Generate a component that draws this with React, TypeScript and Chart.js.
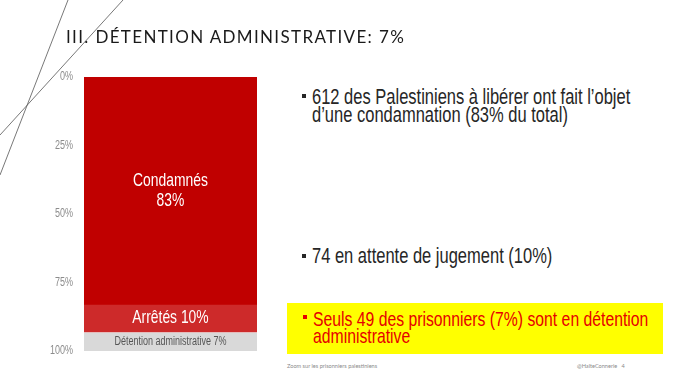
import React, { useEffect, useRef } from "react";
import { Chart, registerables } from "chart.js";

Chart.register(...registerables);

const categories = ["Prisonniers"];
const seriesNames = ["Condamnés", "Arrêtés", "Détention administrative"];
const condamnes = [83];
const arretes = [10];
const detention = [7];
const segmentLabels = [["Condamnés", "83%"], ["Arrêtés 10%"], ["Détention administrative 7%"]];
const yTickValues = [0, 25, 50, 75, 100];

const titleText = "III. DÉTENTION ADMINISTRATIVE: 7%";
const bullet1 = ["612 des Palestiniens à libérer ont fait l’objet", "d’une condamnation (83% du total)"];
const bullet2 = ["74 en attente de jugement (10%)"];
const bullet3 = ["Seuls 49 des prisonniers (7%) sont en détention", "administrative"];
const footerLeft = "Zoom sur les prisonniers palestiniens";
const footerRight = "@HalteConnerie   4";

const SANS = '"Liberation Sans", Arial, sans-serif';
const NARROW_SCALE = 0.75;

const decoPlugin = {
  id: "deco",
  beforeDraw(chart: any) {
    const ctx = chart.ctx;
    ctx.save();
    ctx.strokeStyle = "#555";
    ctx.lineWidth = 0.8;
    ctx.beginPath();
    ctx.moveTo(68, 0);
    ctx.lineTo(0, 175);
    ctx.moveTo(123, 0);
    ctx.lineTo(0, 135);
    ctx.stroke();
    ctx.restore();
  },
};

function narrowText(ctx: any, text: string, x: number, y: number, align: string) {
  ctx.save();
  ctx.translate(x, y);
  ctx.scale(NARROW_SCALE, 1);
  ctx.textAlign = align;
  ctx.fillText(text, 0, 0);
  ctx.restore();
}

const tickPlugin = {
  id: "narrowTicks",
  afterDraw(chart: any) {
    const ctx = chart.ctx;
    const y = chart.scales.y;
    ctx.save();
    ctx.font = `12px ${SANS}`;
    ctx.fillStyle = "#8c8c8c";
    ctx.textBaseline = "middle";
    yTickValues.forEach((v) => {
      narrowText(ctx, `${v}%`, y.right - 11, y.getPixelForValue(v), "right");
    });
    ctx.restore();
  },
};

const labelPlugin = {
  id: "segLabels",
  afterDatasetsDraw(chart: any) {
    const ctx = chart.ctx;
    const styles = [
      { size: 18.5, color: "#ffffff", lh: 20 },
      { size: 18.5, color: "#ffffff", lh: 20 },
      { size: 12, color: "#555555", lh: 13 },
    ];
    ctx.save();
    ctx.textBaseline = "middle";
    chart.data.datasets.forEach((ds: any, i: number) => {
      const meta = chart.getDatasetMeta(i);
      const el = meta.data[0];
      if (!el) return;
      const props = el.getProps(["x", "y", "base"], true);
      const cy = (props.y + props.base) / 2;
      const st = styles[i];
      const lines = segmentLabels[i];
      ctx.font = `${st.size}px ${SANS}`;
      ctx.fillStyle = st.color;
      const start = cy - ((lines.length - 1) * st.lh) / 2;
      lines.forEach((t, k) => narrowText(ctx, t, props.x, start + k * st.lh, "center"));
    });
    ctx.restore();
  },
};

function Bullet({ color, top }: { color: string; top: number }) {
  return (
    <div
      style={{ position: "absolute", left: -10, top, width: 4, height: 4, background: color }}
    />
  );
}

function NarrowLines({ lines }: { lines: string[] }) {
  return (
    <div style={{ transform: `scaleX(${NARROW_SCALE})`, transformOrigin: "0 0" }}>
      {lines.map((l, i) => (
        <div key={i}>{l}</div>
      ))}
    </div>
  );
}

export default function App() {
  const ref = useRef<HTMLCanvasElement>(null);
  useEffect(() => {
    if (!ref.current) return;
    const chart = new Chart(ref.current, {
      type: "bar",
      data: {
        labels: categories,
        datasets: [
          {
            label: seriesNames[0],
            data: condamnes,
            backgroundColor: "#C00000",
            borderWidth: 0,
          },
          {
            label: seriesNames[1],
            data: arretes,
            backgroundColor: "#CD2A2A",
            borderWidth: 0,
          },
          {
            label: seriesNames[2],
            data: detention,
            backgroundColor: "#D9D9D9",
            borderColor: "#ffffff",
            borderWidth: { top: 1, bottom: 0, left: 0, right: 0 },
            borderSkipped: false,
          },
        ],
      },
      options: {
        animation: false,
        responsive: true,
        maintainAspectRatio: false,
        layout: { padding: { top: 77, bottom: 30, left: 0, right: 3 } },
        plugins: { legend: { display: false }, tooltip: { enabled: false } },
        datasets: { bar: { categoryPercentage: 1, barPercentage: 1 } },
        scales: {
          x: { stacked: true, display: false },
          y: {
            stacked: true,
            reverse: true,
            min: 0,
            max: 100,
            afterFit: (s: any) => {
              s.width = 84;
            },
            afterBuildTicks: (s: any) => {
              s.ticks = yTickValues.map((v) => ({ value: v }));
            },
            grid: { display: false, drawTicks: false },
            border: { display: false },
            ticks: { display: false },
          },
        },
      },
      plugins: [decoPlugin, labelPlugin, tickPlugin],
    });
    return () => chart.destroy();
  }, []);

  const textStyle: React.CSSProperties = {
    position: "absolute",
    fontFamily: SANS,
    fontSize: 22,
    lineHeight: "18px",
    color: "#262626",
    whiteSpace: "nowrap",
  };

  return (
    <div
      style={{
        position: "fixed",
        left: 0,
        top: 0,
        width: 680,
        height: 381,
        background: "#ffffff",
        overflow: "hidden",
      }}
    >
      <div style={{ position: "absolute", left: 0, top: 0, width: 260, height: 381 }}>
        <canvas ref={ref} />
      </div>
      <div
        style={{
          position: "absolute",
          left: 66,
          top: 27,
          fontFamily: "Lato, 'Open Sans', sans-serif",
          fontSize: 17,
          letterSpacing: 1.35,
          color: "#1a1a1a",
          whiteSpace: "nowrap",
          lineHeight: "20px",
        }}
      >
        {titleText}
      </div>

      <div style={{ ...textStyle, left: 312, top: 87.7 }}>
        <Bullet color="#262626" top={6.6} />
        <NarrowLines lines={bullet1} />
      </div>

      <div style={{ ...textStyle, left: 312, top: 247.4 }}>
        <Bullet color="#262626" top={6.6} />
        <NarrowLines lines={bullet2} />
      </div>

      <div
        style={{ position: "absolute", left: 287, top: 303, width: 376, height: 51, background: "#FFFF00" }}
      />
      <div style={{ ...textStyle, left: 313, top: 309.6, fontSize: 21, lineHeight: "17px", color: "#E60000" }}>
        <Bullet color="#E60000" top={5.4} />
        <NarrowLines lines={bullet3} />
      </div>

      <div
        style={{
          position: "absolute",
          left: 287,
          top: 362,
          fontFamily: "Lato, sans-serif",
          fontSize: 5.6,
          color: "#8a8a8a",
          whiteSpace: "nowrap",
        }}
      >
        {footerLeft}
      </div>
      <div
        style={{
          position: "absolute",
          left: 577,
          top: 362,
          fontFamily: "Lato, sans-serif",
          fontSize: 5.6,
          color: "#8a8a8a",
          whiteSpace: "pre",
        }}
      >
        {footerRight}
      </div>
    </div>
  );
}
